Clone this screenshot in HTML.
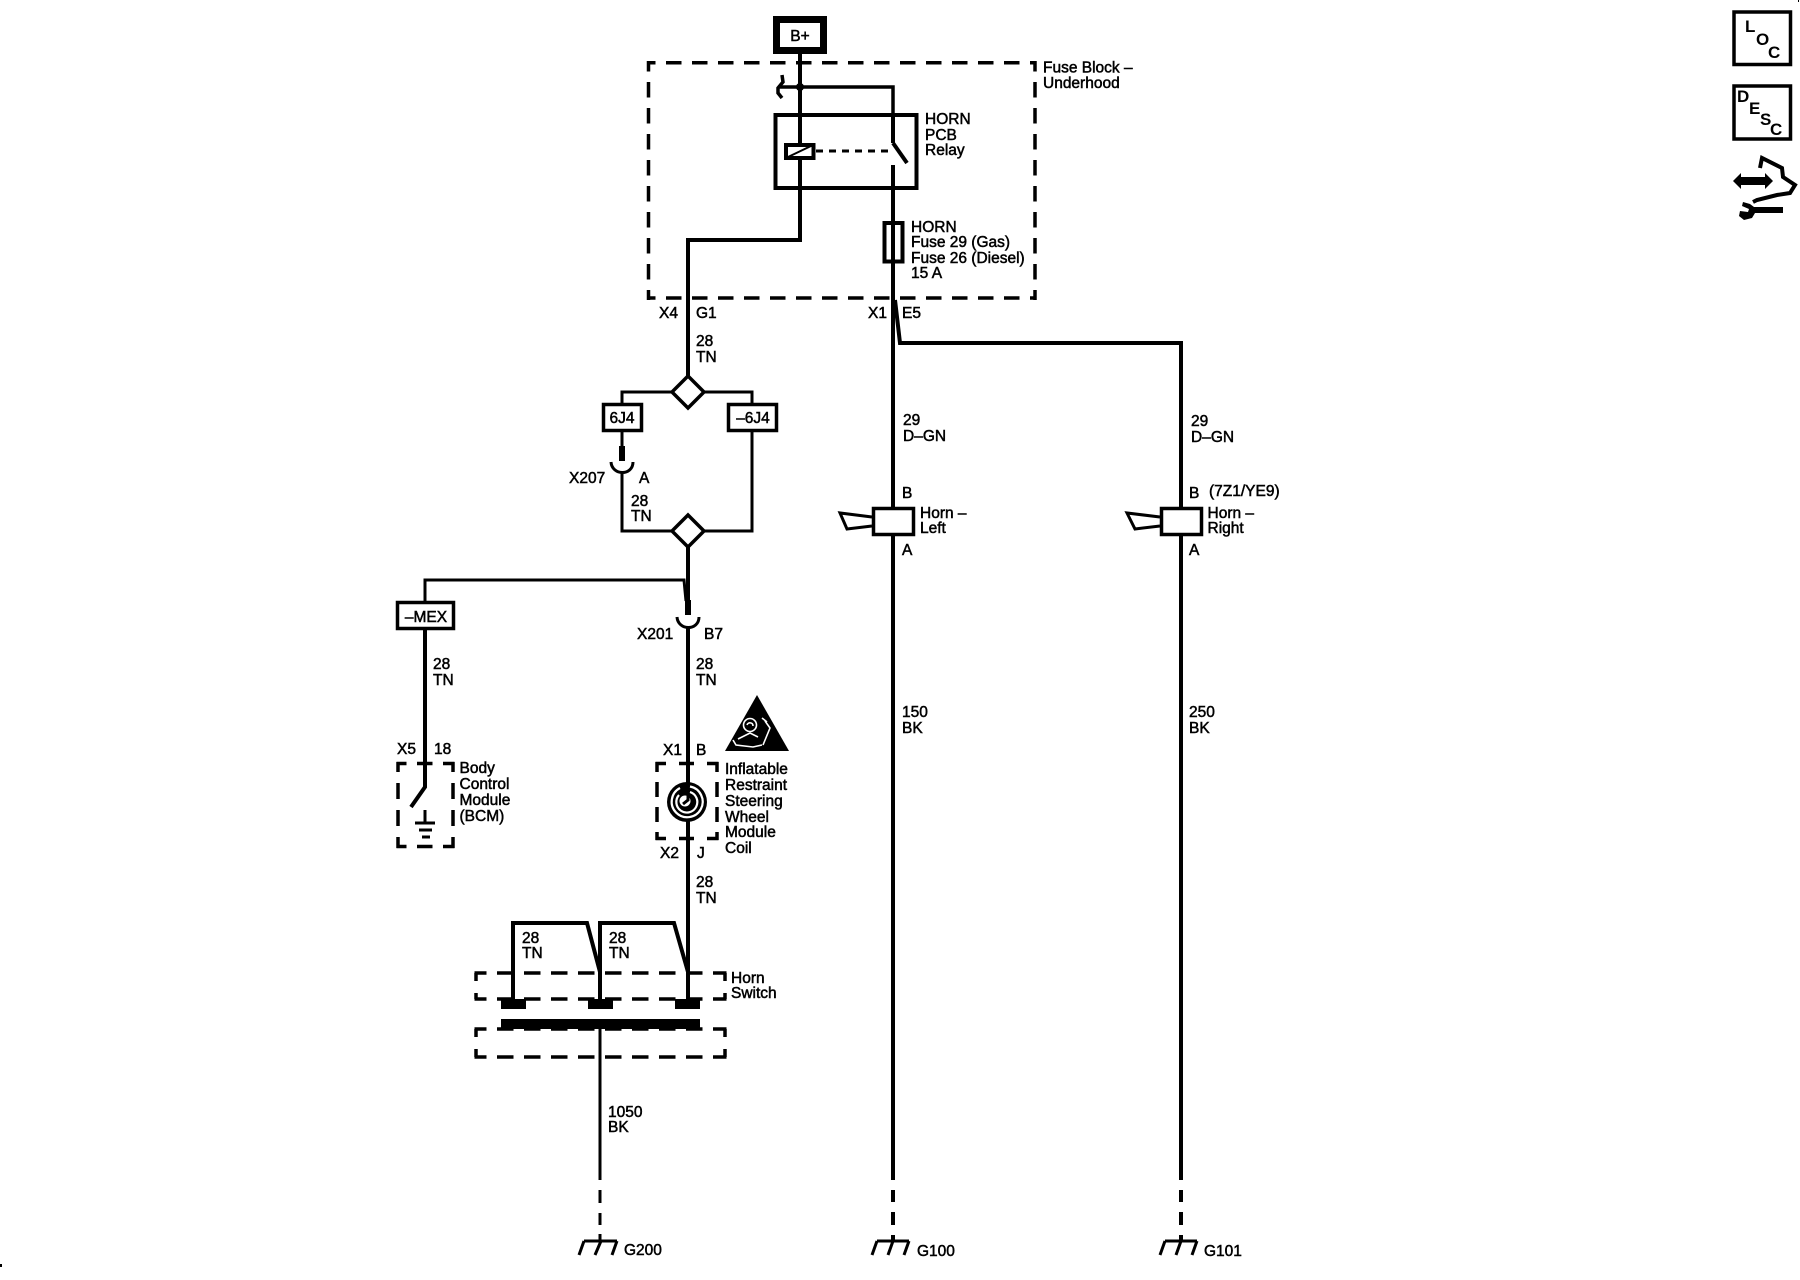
<!DOCTYPE html>
<html>
<head>
<meta charset="utf-8">
<style>
html,body{margin:0;padding:0;background:#fff}
svg{display:block}
text{font-family:"Liberation Sans",sans-serif;font-size:15.5px;fill:#000;stroke:#000;stroke-width:.5px}
.w{fill:none;stroke:#000;stroke-width:4}
.t{fill:none;stroke:#000;stroke-width:3}
.s{fill:none;stroke:#000;stroke-width:3.5}
.m{text-anchor:middle}
.i{font-size:17px;font-weight:bold;stroke:none}
</style>
</head>
<body>
<svg xmlns="http://www.w3.org/2000/svg" width="1800" height="1280" viewBox="0 0 1800 1280">
<rect width="1800" height="1280" fill="#fff"/>
<rect x="0" y="1264" width="2" height="3" fill="#000"/>
<rect x="1798" y="0" width="1" height="2" fill="#000"/>

<!-- Fuse block dashed outline -->
<g class="s" stroke-dasharray="15.5 10.500" fill="none" stroke="#000" stroke-width="3.500">
<path d="M647 62.700H1036" stroke-dashoffset="7"/>
<path d="M647 298H1036" stroke-dashoffset="7"/>
<path d="M648.500 61V300" stroke-dashoffset="5"/>
<path d="M1035 61V300" stroke-dashoffset="5"/>
</g>

<!-- wires -->
<path class="w" d="M800 54V240H688V376"/>
<path class="s" d="M778 87H893V143"/>
<circle cx="800" cy="87" r="4"/>
<path class="s" d="M782 75L783 82L778 88L778 93L782 98"/>
<rect x="775.500" y="115" width="141" height="73" fill="none" stroke="#000" stroke-width="4"/>
<path class="w" d="M893 113V143"/>
<path d="M893 143L907 163" fill="none" stroke="#000" stroke-width="4"/>
<path class="t" d="M816 151H891" stroke-dasharray="7 6"/>
<rect x="786" y="145" width="27.500" height="13" fill="#fff" stroke="#000" stroke-width="4"/>
<path d="M788 157L811 146" fill="none" stroke="#000" stroke-width="2"/>
<path class="w" d="M893 165V1180"/>
<rect x="884.500" y="223" width="18" height="38.500" fill="#fff" stroke="#000" stroke-width="4"/>
<path class="w" d="M893 223V262"/>
<path class="w" d="M895 300L900 343H1181V1180"/>

<!-- B+ -->
<rect x="776.500" y="19.500" width="47" height="31" fill="#fff" stroke="#000" stroke-width="7"/>
<text x="800" y="41" class="m">B+</text>

<text x="1043" y="72.500">Fuse Block –</text>
<text x="1043" y="88">Underhood</text>
<text x="925" y="124">HORN</text>
<text x="925" y="140">PCB</text>
<text x="925" y="155">Relay</text>
<text x="911" y="232">HORN</text>
<text x="911" y="247">Fuse 29 (Gas)</text>
<text x="911" y="263">Fuse 26 (Diesel)</text>
<text x="911" y="278">15 A</text>
<text x="659" y="318">X4</text>
<text x="696" y="318">G1</text>
<text x="868" y="318">X1</text>
<text x="902" y="318">E5</text>
<text x="696" y="346">28</text>
<text x="696" y="362">TN</text>

<!-- Diamonds and options -->
<path class="t" d="M622 403V392H752V403"/>
<path d="M688 376L704 392L688 408L672 392Z" fill="#fff" stroke="#000" stroke-width="3.500"/>
<rect x="603.500" y="404.500" width="38" height="26" fill="#fff" stroke="#000" stroke-width="3.500"/>
<text x="622" y="423" class="m">6J4</text>
<rect x="728.500" y="404.500" width="48" height="26" fill="#fff" stroke="#000" stroke-width="3.500"/>
<text x="753" y="423" class="m">–6J4</text>
<path class="t" d="M622 432V446"/>
<rect x="619" y="446" width="6" height="15" fill="#000"/>
<path class="t" d="M611 462C612 476 633 476 633 462"/>
<path class="t" d="M622 473V531H752V432"/>
<path d="M688 515L704 531L688 547L672 531Z" fill="#fff" stroke="#000" stroke-width="3.500"/>
<text x="569" y="483">X207</text>
<text x="639" y="483">A</text>
<text x="631" y="506">28</text>
<text x="631" y="521">TN</text>

<path class="w" d="M688 547V602"/>
<path class="t" d="M425 601V580H684L686 601"/>
<rect x="685" y="600" width="6" height="15" fill="#000"/>
<path class="t" d="M677 617C678 631 699 631 699 617"/>
<path class="w" d="M688 627V1008"/>
<rect x="397.500" y="602.500" width="56" height="26" fill="#fff" stroke="#000" stroke-width="3.500"/>
<text x="426" y="622" class="m">–MEX</text>
<text x="637" y="639">X201</text>
<text x="704" y="639">B7</text>
<text x="433" y="669">28</text>
<text x="433" y="685">TN</text>
<text x="696" y="669">28</text>
<text x="696" y="685">TN</text>

<!-- BCM -->
<path class="w" d="M425 630V787L411 807"/>
<g fill="none" stroke="#000" stroke-width="3.500">
<path d="M396.500 763.500H454.500" stroke-dasharray="15.500 10.500" stroke-dashoffset="5.500"/>
<path d="M396.500 846.500H454.500" stroke-dasharray="15.500 10.500" stroke-dashoffset="5.500"/>
<path d="M398 762V848" stroke-dasharray="16 11" stroke-dashoffset="6"/>
<path d="M453 762V848" stroke-dasharray="16 11" stroke-dashoffset="6"/>
</g>
<path class="t" d="M425 810V823"/>
<path class="t" d="M415 823H435M419 830H432M422 837H430"/>
<text x="397" y="754">X5</text>
<text x="434" y="754">18</text>
<text x="459.500" y="773">Body</text>
<text x="459.500" y="789">Control</text>
<text x="459.500" y="805">Module</text>
<text x="459.500" y="821">(BCM)</text>

<!-- Coil -->
<g fill="none" stroke="#000" stroke-width="3.500">
<path d="M655.500 763.500H718.500" stroke-dasharray="15 13" stroke-dashoffset="4.500"/>
<path d="M655.500 838.500H718.500" stroke-dasharray="15 13" stroke-dashoffset="4.500"/>
<path d="M657 762V840" stroke-dasharray="15 10" stroke-dashoffset="5"/>
<path d="M717 762V840" stroke-dasharray="15 10" stroke-dashoffset="5"/>
</g>
<circle cx="687" cy="802" r="20" fill="#000"/>
<path d="M690 786.500A15.500 15.500 0 1 1 680 788" fill="none" stroke="#fff" stroke-width="2.200"/>
<path d="M690 792A10.500 10.500 0 1 1 679 795" fill="none" stroke="#fff" stroke-width="2.200"/>
<circle cx="685" cy="801" r="5.500" fill="#fff"/>
<path d="M688 782V800L683 804" stroke="#000" stroke-width="3" fill="none"/>
<text x="663" y="755">X1</text>
<text x="696" y="755">B</text>
<text x="660" y="858">X2</text>
<text x="697" y="858">J</text>
<text x="725" y="774">Inflatable</text>
<text x="725" y="790">Restraint</text>
<text x="725" y="806">Steering</text>
<text x="725" y="822">Wheel</text>
<text x="725" y="837">Module</text>
<text x="725" y="853">Coil</text>
<text x="696" y="887">28</text>
<text x="696" y="903">TN</text>

<!-- Warning triangle -->
<path d="M757 695L789 751H725Z" fill="#000"/>
<g fill="none" stroke="#fff" stroke-width="1.600">
<circle cx="750" cy="725" r="6.500"/>
<path d="M747 725C748 722 753 722 753 726"/>
<path d="M733 740L736 745L753 747L762 745"/>
<path d="M738 739L750 733L758 737"/>
<path d="M765 721L770 728L763 745"/>
<path d="M762 718L767 722"/>
</g>

<!-- Horn switch -->
<path class="w" d="M513 1000V923H587L600 972V1000"/>
<path class="w" d="M600 972V923H674L688 972"/>
<g fill="none" stroke="#000" stroke-width="3.500">
<path d="M474.500 973H726.500" stroke-dasharray="16.500 10.500" stroke-dashoffset="4.500"/>
<path d="M474.500 999H726.500" stroke-dasharray="16.500 10.500" stroke-dashoffset="4.500"/>
<path d="M474.500 1029H726.500" stroke-dasharray="16.500 10.500" stroke-dashoffset="4.500"/>
<path d="M474.500 1057H726.500" stroke-dasharray="16.500 10.500" stroke-dashoffset="4.500"/>
<path d="M476 973V981M476 993V999M725 973V981M725 993V999M476 1029V1037M476 1049V1057M725 1029V1037M725 1049V1057"/>
</g>
<rect x="501" y="999" width="25" height="10" fill="#000"/>
<rect x="588" y="999" width="25" height="10" fill="#000"/>
<rect x="675" y="999" width="25" height="10" fill="#000"/>
<rect x="501" y="1019" width="199" height="10" fill="#000"/>
<path class="t" d="M600 1029V1180"/>
<text x="522" y="943">28</text>
<text x="522" y="958">TN</text>
<text x="609" y="943">28</text>
<text x="609" y="958">TN</text>
<text x="731" y="983">Horn</text>
<text x="731" y="998">Switch</text>
<text x="608" y="1117">1050</text>
<text x="608" y="1132">BK</text>

<!-- Horns -->
<rect x="873.500" y="508.500" width="40" height="26" fill="#fff" stroke="#000" stroke-width="3.500"/>
<path class="t" d="M872 517L840 513L847 529L872 526"/>
<text x="903" y="425">29</text>
<text x="903" y="441">D–GN</text>
<text x="902" y="498">B</text>
<text x="920" y="518">Horn –</text>
<text x="920" y="533">Left</text>
<text x="902" y="555">A</text>
<text x="902" y="717">150</text>
<text x="902" y="733">BK</text>

<rect x="1161.500" y="508.500" width="40" height="26" fill="#fff" stroke="#000" stroke-width="3.500"/>
<path class="t" d="M1160 517L1127 513L1135 529L1160 526"/>
<text x="1191" y="426">29</text>
<text x="1191" y="442">D–GN</text>
<text x="1189" y="498">B</text>
<text x="1209" y="496">(7Z1/YE9)</text>
<text x="1207.500" y="518">Horn –</text>
<text x="1207.500" y="533">Right</text>
<text x="1189" y="555">A</text>
<text x="1189" y="717">250</text>
<text x="1189" y="733">BK</text>

<!-- Grounds -->
<path class="t" d="M600 1190V1203M600 1213V1225M600 1234V1241"/>
<path class="w" d="M893 1190V1202M893 1212V1225M893 1235V1241"/>
<path class="w" d="M1181 1190V1202M1181 1212V1225M1181 1235V1241"/>
<path class="t" d="M584 1241H617M584 1241L579 1255M601 1241L595 1255M617 1241L612 1255"/>
<path class="t" d="M877 1241H909M877 1241L872 1255M893 1241L888 1255M909 1241L904 1255"/>
<path class="t" d="M1165 1241H1197M1165 1241L1160 1255M1181 1241L1176 1255M1197 1241L1192 1255"/>
<text x="624" y="1255">G200</text>
<text x="917" y="1256">G100</text>
<text x="1204" y="1256">G101</text>

<!-- Side icons -->
<rect x="1734" y="12" width="56.500" height="52.500" fill="none" stroke="#000" stroke-width="3.500"/>
<text x="1745" y="32" class="i">L</text>
<text x="1756" y="45" class="i">O</text>
<text x="1768" y="58" class="i">C</text>
<rect x="1734" y="86" width="56.500" height="53" fill="none" stroke="#000" stroke-width="3.500"/>
<text x="1737" y="102" class="i">D</text>
<text x="1749" y="114" class="i">E</text>
<text x="1760" y="125" class="i">S</text>
<text x="1770" y="135" class="i">C</text>
<path d="M1733 181L1741 173V177H1765V173L1773 181L1765 189V185H1741V189Z" fill="#000"/>
<path d="M1760 168L1762 158L1782 168L1783 177L1795 185L1790 193L1777 195L1757 200L1753 202" fill="none" stroke="#000" stroke-width="4"/>
<path d="M1783 207H1754L1750 204L1743 202L1742 206L1749 209L1748 212L1740 211L1739 216L1744 220L1752 218L1755 213H1783Z" fill="#000"/>
</svg>
</body>
</html>
